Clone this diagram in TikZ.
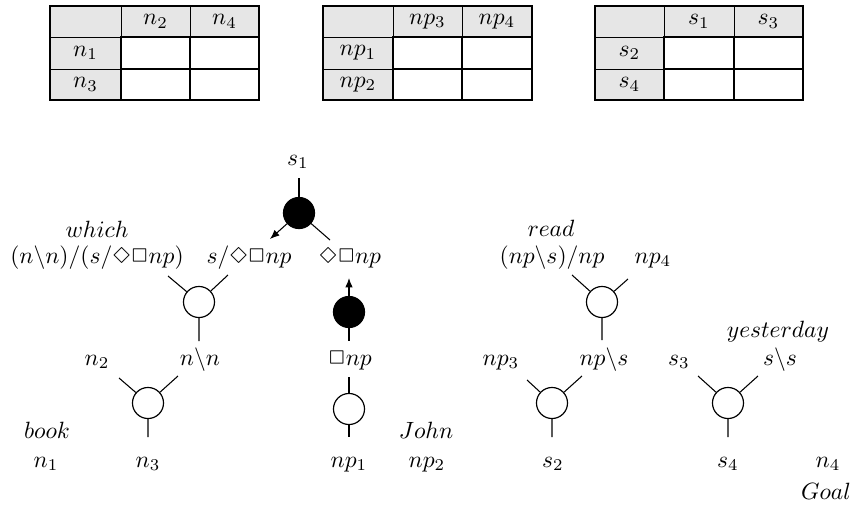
\documentclass[tikz,border=0pt]{standalone}
\usepackage{latexsym}
\usetikzlibrary{arrows.meta}
\definecolor{cellgray}{RGB}{230,230,230}
\newcommand{\ptable}[9]{%
  \fill[cellgray] (#2,6) rectangle (#5,37);
  \fill[cellgray] (#2,37) rectangle (#3,100);
  \draw[line width=0.4pt] (#3,6) -- (#3,37) (#4,6) -- (#4,37) (#2,37) -- (#3,37) (#2,69) -- (#3,69);
  \draw[line width=1pt] (#3,37) rectangle (#5,100) (#4,37) -- (#4,100) (#3,69) -- (#5,69);
  \draw[line width=0.8pt] (#2,6) rectangle (#5,100);
  \node (#1c1) at ({(#3+#4)/2},21.5) {$#6$};
  \node (#1c2) at ({(#4+#5)/2},21.5) {$#7$};
  \node (#1r1) at ({(#2+#3)/2},53) {$#8$};
  \node (#1r2) at ({(#2+#3)/2},84.5) {$#9$};
}
\begin{document}
\begin{tikzpicture}[x=0.425pt,y=-0.425pt,
  wc/.style={circle,draw,line width=0.5pt,minimum size=13.2pt,inner sep=0pt,fill=white},
  bc/.style={wc,fill=black},
  lbl/.style={anchor=base,inner sep=0pt},
  ln/.style={line width=0.45pt},
  tip/.style={-{Latex[length=4pt,width=3.2pt]}}
]
\useasboundingbox (0,0) rectangle (854,506);

% tables
\ptable{ta}{50}{121}{190}{259}{n_2}{n_4}{n_1}{n_3}
\ptable{tb}{323}{393}{462}{532}{np_3}{np_4}{np_1}{np_2}
\ptable{tc}{595}{664}{734}{803}{s_1}{s_3}{s_2}{s_4}

% links
\node[bc] (b1) at (299,213) {};
\node[wc] (w1) at (199,302) {};
\node[bc] (b2) at (349,312) {};
\node[wc] (w2) at (349,409) {};
\node[wc] (w3) at (148,403) {};
\node[wc] (w4) at (602,302) {};
\node[wc] (w5) at (552,403) {};
\node[wc] (w6) at (728,403) {};

% labels
\node[lbl] (ls1) at (298,165) {$s_1$};
\node[lbl] (lwhich) at (97,237) {$which$};
\node[lbl] (lwt) at (97,263) {$(n\backslash n)/(s/\Diamond\Box np)$};
\node[lbl] (lsd) at (249,263) {$s/\Diamond\Box np$};
\node[lbl] (ldb) at (350,263) {$\Diamond\Box np$};
\node[lbl] (lread) at (551,236) {$read$};
\node[lbl] (lrt) at (552,263) {$(np\backslash s)/np$};
\node[lbl] (lnp4) at (653,263) {$np_4$};
\node[lbl] (ln2) at (97,365) {$n_2$};
\node[lbl] (lnn) at (200,365) {$n\backslash n$};
\node[lbl] (lbnp) at (350,365) {$\Box np$};
\node[lbl] (lnp3) at (501,365) {$np_3$};
\node[lbl] (lnps) at (604,365) {$np\backslash s$};
\node[lbl] (ls3) at (679,365) {$s_3$};
\node[lbl] (lss) at (780,365) {$s\backslash s$};
\node[lbl] (lyest) at (778,337) {$yesterday$};
\node[lbl] (lbook) at (47,438) {$book$};
\node[lbl] (ljohn) at (426,438) {$John$};
\node[lbl] (ln1) at (46,467) {$n_1$};
\node[lbl] (ln3) at (148,467) {$n_3$};
\node[lbl] (lnp1) at (349,467) {$np_1$};
\node[lbl] (lnp2) at (427,467) {$np_2$};
\node[lbl] (ls2) at (553,467) {$s_2$};
\node[lbl] (ls4) at (728,467) {$s_4$};
\node[lbl] (ln4) at (828,467) {$n_4$};
\node[lbl] (lgoal) at (826,499) {$Goal$};

% free ends
\coordinate (b1a) at (299,178);
\coordinate (b1b) at (270,239);
\coordinate (b1c) at (330,240);
\coordinate (b2a) at (349,278);
\coordinate (b2b) at (349,341);
\coordinate (w2a) at (349,377);
\coordinate (w2b) at (349,437);
\coordinate (w1a) at (168,276);
\coordinate (w1b) at (228,275);
\coordinate (w1c) at (199,341);
\coordinate (w3a) at (119,378);
\coordinate (w3b) at (178,376);
\coordinate (w3c) at (148,437);
\coordinate (w4a) at (572,275);
\coordinate (w4b) at (628,279);
\coordinate (w4c) at (602,340);
\coordinate (w5a) at (527,380);
\coordinate (w5b) at (582,376);
\coordinate (w5c) at (552,437);
\coordinate (w6a) at (698,376);
\coordinate (w6b) at (758,376);
\coordinate (w6c) at (728,437);

% connectors
\draw[ln] (b1a) -- (b1);
\draw[ln,tip] (b1) -- (b1b);
\draw[ln] (b1) -- (b1c);
\draw[ln,tip] (b2) -- (b2a);
\draw[ln] (b2) -- (b2b);
\draw[ln] (w2a) -- (w2);
\draw[ln] (w2) -- (w2b);
\draw[ln] (w1a) -- (w1) (w1b) -- (w1) (w1) -- (w1c);
\draw[ln] (w3a) -- (w3) (w3b) -- (w3) (w3) -- (w3c);
\draw[ln] (w4a) -- (w4) (w4b) -- (w4) (w4) -- (w4c);
\draw[ln] (w5a) -- (w5) (w5b) -- (w5) (w5) -- (w5c);
\draw[ln] (w6a) -- (w6) (w6b) -- (w6) (w6) -- (w6c);
\end{tikzpicture}
\end{document}
